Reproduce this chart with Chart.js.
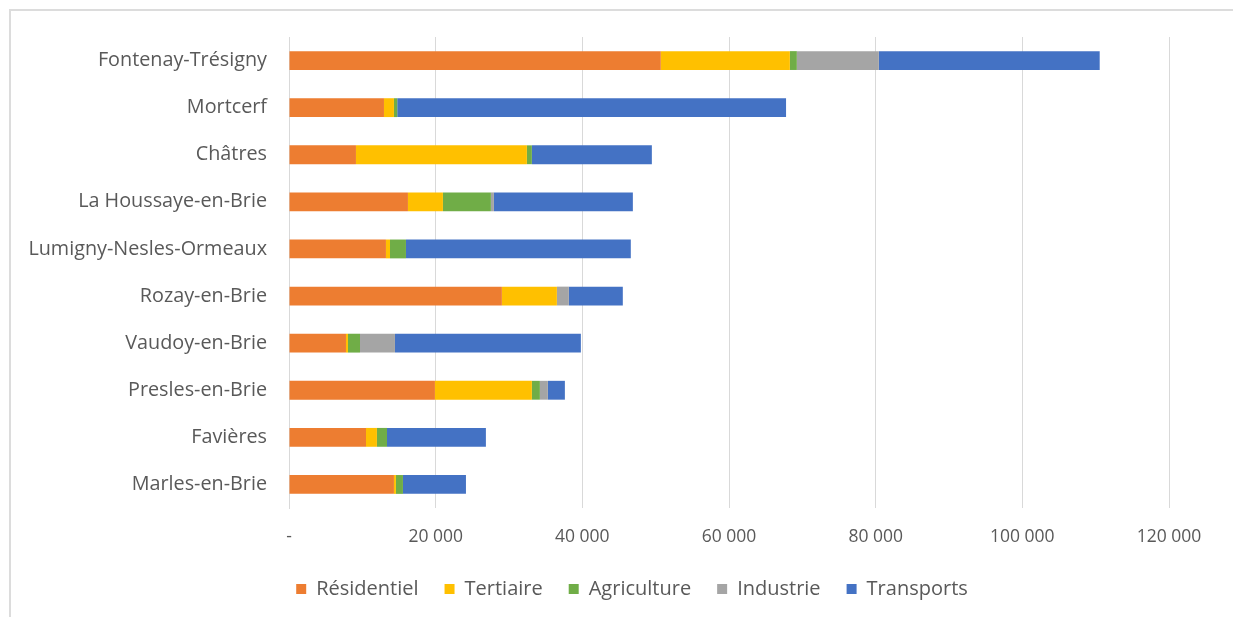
<!DOCTYPE html>
<html>
<head>
<meta charset="utf-8">
<script src="https://cdn.jsdelivr.net/npm/chart.js@4"></script>
<style>
  body { margin: 0; background: #fff; }
  #frame { position: absolute; left: 9px; top: 9px; width: 1400px; height: 800px;
           border-left: 2px solid #dcdcdc; border-top: 2px solid #dcdcdc; }
  #wrap { position: absolute; left: 0; top: 0; width: 1233px; height: 617px; }
</style>
</head>
<body>
<div id="frame"></div>
<div id="wrap"><canvas id="chart"></canvas></div>
<script>
// communes, du haut vers le bas
const communes = ['Fontenay-Trésigny', 'Mortcerf', 'Châtres', 'La Houssaye-en-Brie',
  'Lumigny-Nesles-Ormeaux', 'Rozay-en-Brie', 'Vaudoy-en-Brie', 'Presles-en-Brie',
  'Favières', 'Marles-en-Brie'];

const residentiel = [50700, 12950, 9130, 16220, 13220, 29030, 7770, 19900, 10500, 14310];
const tertiaire   = [17600, 1360, 23310, 4770, 550, 7500, 270, 13220, 1490, 270];
const agriculture = [950, 450, 680, 6540, 2180, 0, 1640, 1090, 1370, 960];
const industrie   = [11180, 0, 0, 410, 0, 1630, 4770, 1090, 0, 0];
const transports  = [30120, 53020, 16360, 18950, 30660, 7360, 25350, 2320, 13490, 8590];

const xTicks = [0, 20000, 40000, 60000, 80000, 100000, 120000];

const grey = '#595959';

const fmt = v => v === 0 ? '-' : String(v).replace(/\B(?=(\d{3})+(?!\d))/g, ' ');

// décale la légende vers la droite (centrée sous la zone du graphique)
const legendShift = {
  id: 'legendShift',
  afterLayout(chart) { chart.legend.left += 95; }
};

new Chart(document.getElementById('chart'), {
  type: 'bar',
  data: {
    labels: communes,
    datasets: [
      { label: 'Résidentiel', data: residentiel, backgroundColor: '#ED7D31' },
      { label: 'Tertiaire', data: tertiaire, backgroundColor: '#FFC000' },
      { label: 'Agriculture', data: agriculture, backgroundColor: '#70AD47' },
      { label: 'Industrie', data: industrie, backgroundColor: '#A5A5A5' },
      { label: 'Transports', data: transports, backgroundColor: '#4472C4' }
    ]
  },
  plugins: [legendShift],
  options: {
    indexAxis: 'y',
    responsive: true,
    maintainAspectRatio: false,
    animation: false,
    barPercentage: 0.4,
    categoryPercentage: 1,
    layout: { padding: { left: 0, right: 64, top: 37, bottom: 8 } },
    plugins: {
      tooltip: { enabled: false },
      legend: {
        position: 'bottom',
        labels: { color: grey, font: { family: 'Open Sans', size: 20 }, boxWidth: 10, boxHeight: 10, padding: 26 }
      }
    },
    scales: {
      x: {
        stacked: true,
        min: 0, max: 120000,
        afterBuildTicks: s => { s.ticks = xTicks.map(v => ({ value: v })); },
        afterFit: s => { s.height = 45; },
        grid: { color: '#d9d9d9', lineWidth: 1, drawTicks: false },
        border: { display: false },
        ticks: { color: grey, font: { family: 'Open Sans', size: 17.5 }, padding: 19, callback: fmt }
      },
      y: {
        stacked: true,
        afterFit: s => { s.width = 289; },
        grid: { display: false, drawTicks: false },
        border: { color: '#d9d9d9' },
        ticks: { color: grey, font: { family: 'Open Sans', size: 19.8 }, padding: 22 }
      }
    }
  }
});
</script>
</body>
</html>
